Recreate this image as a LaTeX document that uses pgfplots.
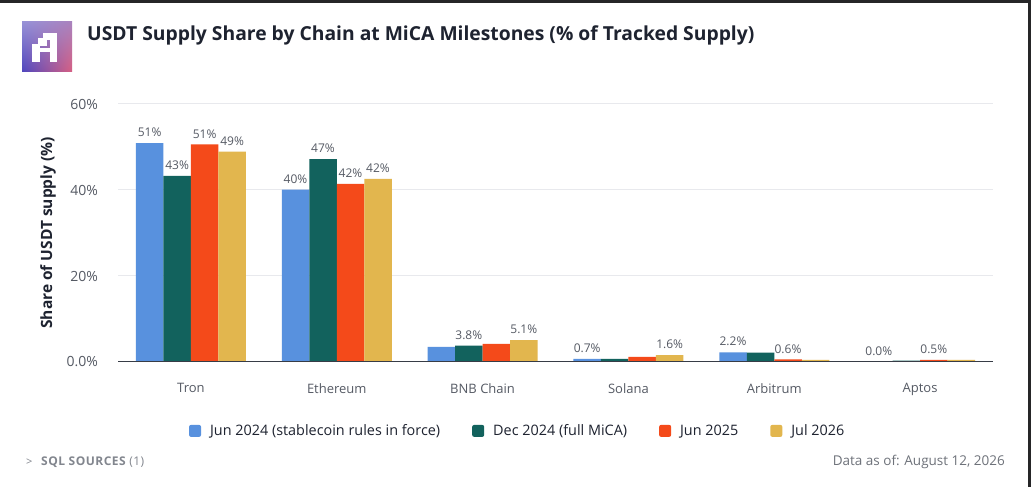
\documentclass[border=0pt]{standalone}
\usepackage{pgfplots}
\pgfplotsset{compat=1.18}
\usetikzlibrary{shadings}
\usepackage{fontspec}
\setmainfont{Open Sans}
\definecolor{cA}{RGB}{88,145,222}
\definecolor{cB}{RGB}{18,98,93}
\definecolor{cC}{RGB}{244,74,26}
\definecolor{cD}{RGB}{226,182,78}
\definecolor{titlecol}{RGB}{30,35,48}
\definecolor{tickcol}{RGB}{85,90,100}
\definecolor{gridcol}{RGB}{232,233,237}
\definecolor{axiscol}{RGB}{55,60,70}
\definecolor{footcol}{RGB}{110,114,122}
\definecolor{footcolB}{RGB}{130,134,142}
\definecolor{framecol}{RGB}{38,38,40}
\definecolor{logoA}{RGB}{150,145,215}
\definecolor{logoB}{RGB}{78,70,190}
\definecolor{logoC}{RGB}{215,95,130}
\begin{document}
\begin{tikzpicture}[x=1pt,y=1pt]
\path[use as bounding box] (0,0) rectangle (1031,487);
\fill[white] (0,0) rectangle (1031,487);
\fill[framecol] (0,484) rectangle (1031,487);
\fill[framecol] (1028,0) rectangle (1031,487);
% logo
\shade[upper left=logoA, upper right=logoA!70!logoC, lower left=logoB, lower right=logoC] (22,415) rectangle (72,465);
\begin{scope}[shift={(22,465)}, y=-1pt]
\fill[white] (20.7,11.3) rectangle (34.7,18);
\fill[white] (16.3,16.3) rectangle (24.7,23.7);
\fill[white] (10.3,22.3) rectangle (18,39.7);
\fill[white] (28,11.3) rectangle (34.7,39.7);
\fill[white] (10.3,26.3) rectangle (34.7,30.3);
\end{scope}
\node[anchor=west, inner sep=0pt, font=\fontsize{19.3}{22}\selectfont\bfseries, text=titlecol] at (87,452) {USDT Supply Share by Chain at MiCA Milestones (\% of Tracked Supply)};
\begin{axis}[
  at={(118pt,125pt)}, anchor=south west,
  scale only axis, width=875pt, height=258pt,
  xmin=-0.5, xmax=5.5, ymin=0, ymax=60,
  ybar=0pt, bar width=27.5pt,
  axis line style={draw=none},
  major tick length=0pt,
  xtick={0,1,2,3,4,5},
  xticklabels={Tron,Ethereum,BNB Chain,Solana,Arbitrum,Aptos},
  ytick={0,20,40,60},
  yticklabels={0.0\%,20\%,40\%,60\%},
  ymajorgrids, grid style={draw=gridcol, line width=1pt},
  xticklabel style={font=\fontsize{13}{15}\selectfont, text=tickcol, anchor=north, inner sep=0pt, yshift=-21pt},
  yticklabel style={font=\fontsize{14}{16}\selectfont, text=tickcol, anchor=east, inner sep=0pt, xshift=-20pt},
  ylabel={Share of USDT supply (\%)},
  ylabel style={at={(axis description cs:-0.08,0.5)}, anchor=center, font=\fontsize{15.5}{18}\selectfont\bfseries, text=titlecol},
  point meta=explicit symbolic,
  nodes near coords,
  nodes near coords style={font=\fontsize{12}{14}\selectfont, text=tickcol, anchor=south, inner sep=0pt, yshift=6pt},
  legend columns=4,
  legend style={at={(axis description cs:0.081,-0.267)}, anchor=west, draw=none, fill=none, inner sep=0pt,
    font=\fontsize{14.4}{16}\selectfont, text=titlecol,
    /tikz/every odd column/.style={column sep=7pt},
    /tikz/every even column/.style={column sep=30pt}},
  legend image code/.code={\fill[rounded corners=2pt] (0pt,-6pt) rectangle (12pt,6pt);},
  every axis plot/.append style={draw=none},
]
\addplot[fill=cA] coordinates {(0,50.9) [51\%] (1,40.1) [40\%] (2,3.5) [{}] (3,0.7) [0.7\%] (4,2.25) [2.2\%] (5,0.0) [0.0\%]};
\addplot[fill=cB] coordinates {(0,43.3) [43\%] (1,47.2) [47\%] (2,3.8) [3.8\%] (3,0.7) [{}] (4,2.2) [{}] (5,0.3) [{}]};
\addplot[fill=cC] coordinates {(0,50.6) [51\%] (1,41.4) [42\%] (2,4.2) [{}] (3,1.2) [{}] (4,0.6) [0.6\%] (5,0.5) [0.5\%]};
\addplot[fill=cD] coordinates {(0,48.9) [49\%] (1,42.6) [42\%] (2,5.1) [5.1\%] (3,1.6) [1.6\%] (4,0.5) [{}] (5,0.5) [{}]};
\legend{Jun 2024 (stablecoin rules in force),Dec 2024 (full MiCA),Jun 2025,Jul 2026}
\draw[axiscol, line width=1.5pt] (axis cs:-0.5,0) -- (axis cs:5.5,0);
\end{axis}
\node[anchor=west, inner sep=0pt, font=\fontsize{11}{13}\selectfont, text=footcolB] at (26,25) {\textgreater};
\node[anchor=west, inner sep=0pt, font=\fontsize{12}{14}\selectfont\bfseries\addfontfeatures{LetterSpace=4}, text=footcolB] at (41,25) {SQL SOURCES {\mdseries (1)}};
\node[anchor=east, inner sep=0pt, font=\fontsize{13.5}{15}\selectfont, text=footcol] at (1005,25) {Data as of: August 12, 2026};
\end{tikzpicture}
\end{document}
